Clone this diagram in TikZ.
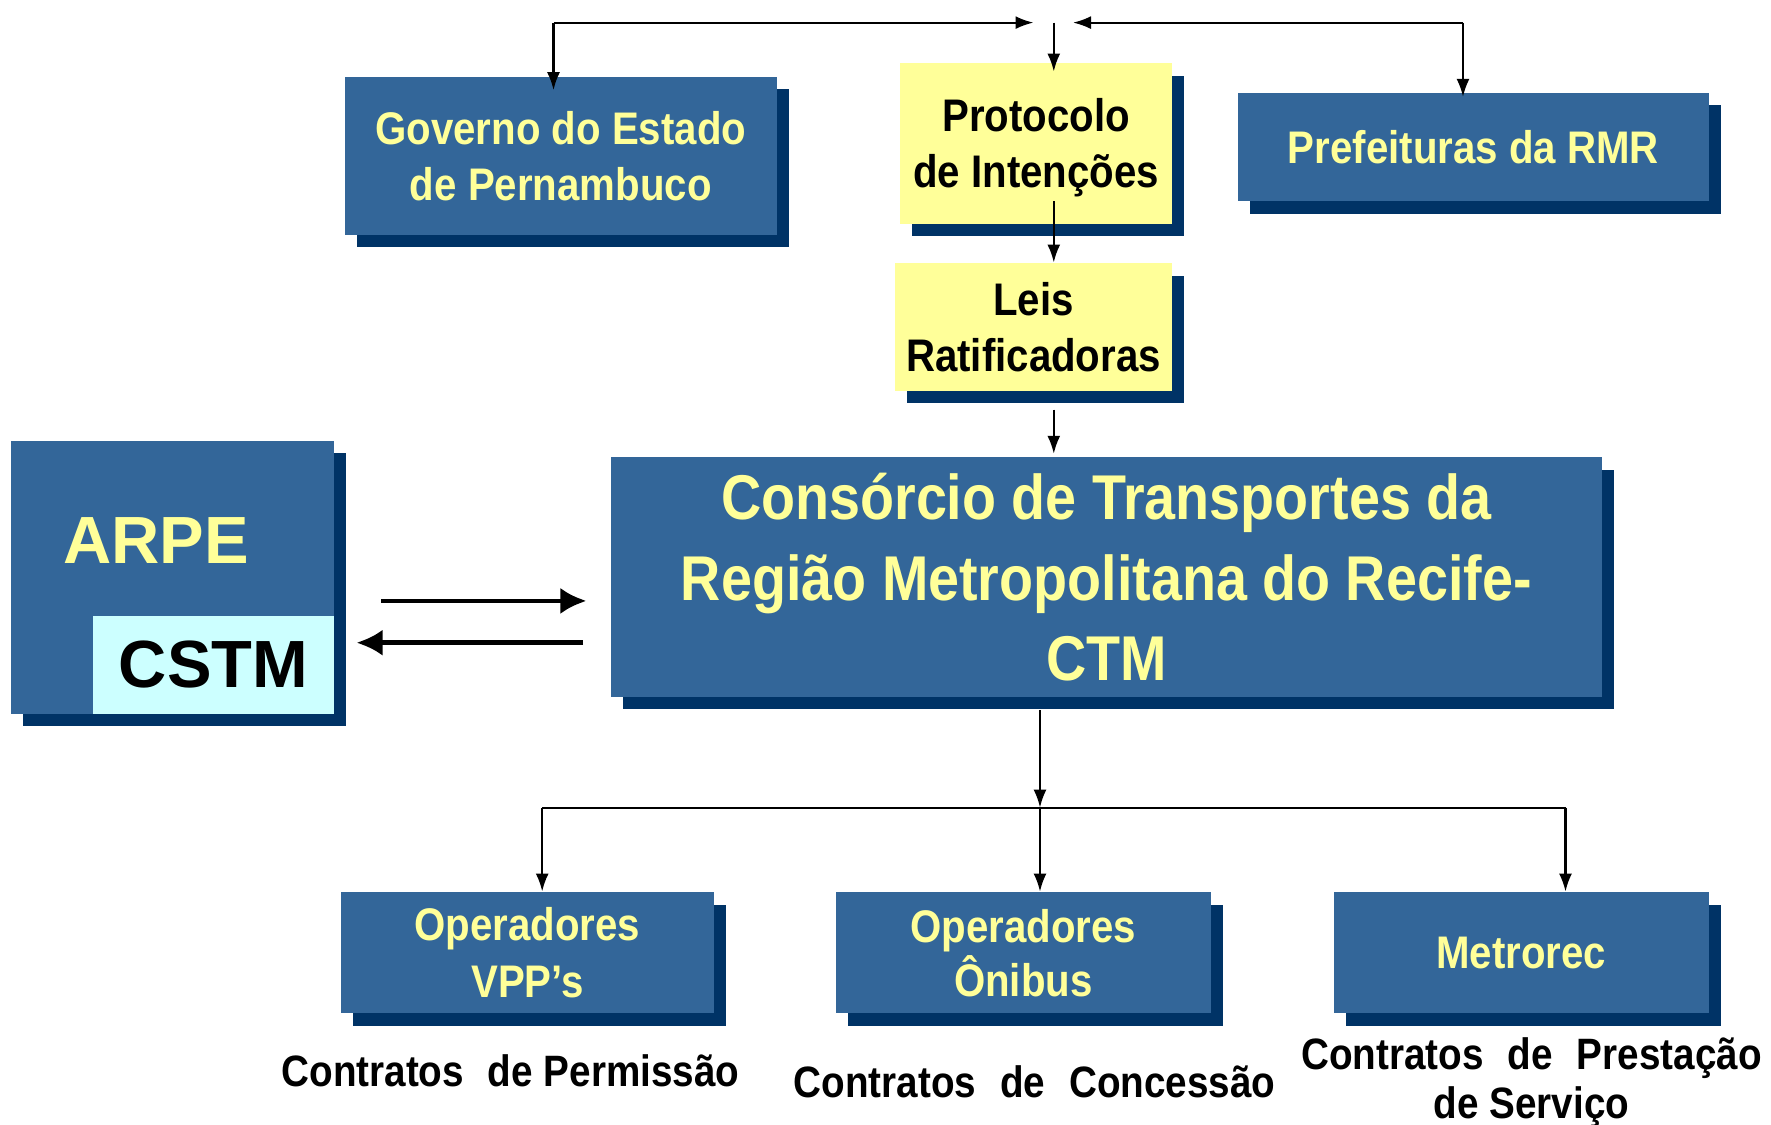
\documentclass[tikz,border=0pt]{standalone}
\usepackage{fontspec}
\setmainfont{Liberation Sans}
\newfontfamily\narrowbf{Liberation Sans}[FakeStretch=0.88]
\usetikzlibrary{arrows.meta,shadows}

\definecolor{BoxBlue}{HTML}{336699}
\definecolor{ShadowBlue}{HTML}{003366}
\definecolor{TextYellow}{HTML}{FFFF99}
\definecolor{PaleYellow}{HTML}{FFFF99}
\definecolor{PaleCyan}{HTML}{CCFFFF}

\tikzset{
    bluebox/.style={fill=BoxBlue, text=TextYellow, align=center, inner sep=0pt,
        font=\narrowbf\bfseries\fontsize{13}{16}\selectfont,
        drop shadow={shadow xshift=0.12cm, shadow yshift=-0.125cm, fill=ShadowBlue, opacity=1}},
    yellowbox/.style={bluebox, fill=PaleYellow, text=black},
    link/.style={draw=black, line width=0.6pt, -{Latex[length=1.8mm,width=1.3mm]}},
    plainline/.style={draw=black, line width=0.6pt},
    bigarrow/.style={draw=black, line width=1.3pt, -{Latex[length=2.6mm,width=2.6mm]}},
    contract/.style={align=center, font=\narrowbf\bfseries\fontsize{12.5}{14}\selectfont},
}

\begin{document}
\begin{tikzpicture}
    \useasboundingbox (0,0) rectangle (17.71,-11.25);

    \coordinate (topL) at (5.535,-0.226);
    \coordinate (meetL) at (10.335,-0.226);
    \coordinate (topM) at (10.538,-0.226);
    \coordinate (meetR) at (10.73,-0.226);
    \coordinate (topR) at (14.63,-0.226);
    \coordinate (fork) at (10.40,-8.076);
    \coordinate (forkL) at (5.422,-8.076);
    \coordinate (forkR) at (15.655,-8.076);

    \node[bluebox, minimum width=4.326cm, minimum height=1.581cm] (governo) at (5.608,-1.559) {Governo do Estado\\de Pernambuco};
    \node[yellowbox, minimum width=2.722cm, minimum height=1.604cm] (protocolo) at (10.363,-1.434) {\rule{0pt}{12pt}Protocolo\\de Intenções};
    \node[bluebox, minimum width=4.71cm, minimum height=1.085cm] (prefeituras) at (14.734,-1.468) {Prefeituras da RMR};
    \node[yellowbox, minimum width=2.779cm, minimum height=1.276cm] (leis) at (10.335,-3.27) {Leis\\Ratificadoras};
    \node[bluebox, minimum width=9.906cm, minimum height=2.395cm,
        font=\narrowbf\bfseries\fontsize{18}{23}\selectfont] (ctm) at (11.063,-5.772)
        {Consórcio de Transportes da\\Região Metropolitana do Recife-\\CTM};

    \node[bluebox, minimum width=3.23cm, minimum height=2.733cm] (arpe) at (1.728,-5.772) {};
    \node[fill=PaleCyan, anchor=south east, inner sep=0pt, minimum width=2.417cm, minimum height=0.98cm,
        font=\bfseries\fontsize{19}{19}\selectfont] (cstm) at (arpe.south east) {CSTM};
    \node[text=TextYellow, font=\bfseries\fontsize{19}{19}\selectfont] (arpelabel) at (1.559,-5.41) {ARPE};

    \node[bluebox, minimum width=3.727cm, minimum height=1.209cm] (vpp) at (5.275,-9.527) {Operadores\\VPP’s};
    \node[bluebox, minimum width=3.75cm, minimum height=1.209cm,
        font=\narrowbf\bfseries\fontsize{13}{13.5}\selectfont] (onibus) at (10.233,-9.527) {Operadores\\Ônibus};
    \node[bluebox, minimum width=3.75cm, minimum height=1.209cm] (metrorec) at (15.214,-9.527) {Metrorec};

    \node[contract] (permissao) at (5.105,-10.708) {Contratos\hspace{0.3em} de Permissão};
    \node[contract] (concessao) at (10.346,-10.821) {Contratos\hspace{0.3em} de\hspace{0.3em} Concessão};
    \node[contract] (prestacao) at (15.316,-10.83) {Contratos\hspace{0.3em} de\hspace{0.3em} Prestação\\de Serviço};

    \draw[link] (topL) -- (meetL);
    \draw[link] (topR) -- (meetR);
    \draw[link, shorten >=-0.14cm] (topL) -- (topL |- governo.north);
    \draw[link, shorten >=-0.09cm] (topM) -- (topM |- protocolo.north);
    \draw[link, shorten >=-0.05cm] (topR) -- (topR |- prefeituras.north);
    \draw[link, shorten <=-0.23cm] (topM |- protocolo.south) -- (topM |- leis.north);
    \draw[link, shorten <=0.18cm, shorten >=0.03cm] (topM |- leis.south) -- (topM |- ctm.north);

    \draw[bigarrow, shorten <=0.463cm, shorten >=0.238cm] ([yshift=-0.237cm]arpe.east) -- ([yshift=-0.237cm]ctm.west);
    \draw[bigarrow, shorten <=0.271cm, shorten >=0.215cm] ([yshift=-0.655cm]ctm.west) -- ([yshift=-0.655cm]arpe.east);

    \draw[link, shorten <=0.125cm] (fork |- ctm.south) -- (fork);
    \draw[plainline] (forkL) -- (forkR);
    \draw[link] (forkL) -- (forkL |- vpp.north);
    \draw[link] (fork) -- (fork |- onibus.north);
    \draw[link] (forkR) -- (forkR |- metrorec.north);
\end{tikzpicture}
\end{document}
